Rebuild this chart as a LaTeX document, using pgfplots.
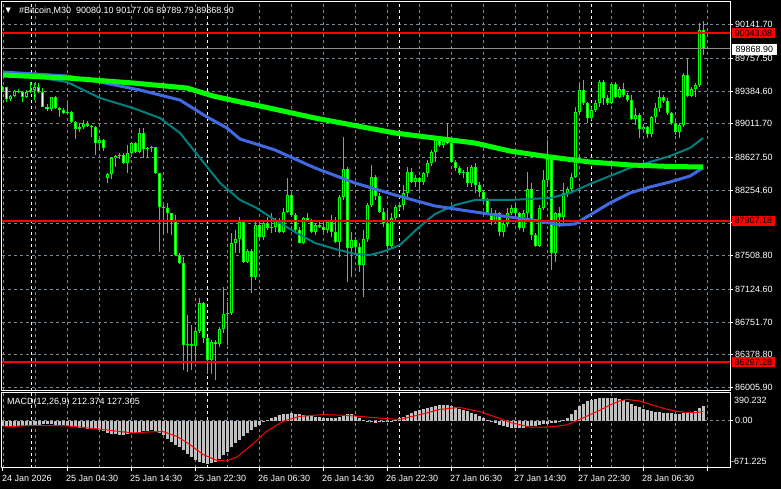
\documentclass[border=0pt]{standalone}
\usepackage{fontspec}
\setmainfont{Liberation Sans}
\newfontfamily\symbolfont{DejaVu Sans}
\usepackage{pgfplots}
\pgfplotsset{compat=1.18}
\usepackage{pgfplotstable}

\definecolor{mtlime}{RGB}{0,255,0}
\definecolor{mtblue}{RGB}{65,105,225}
\definecolor{mtteal}{RGB}{0,128,128}
\definecolor{mtgrid}{RGB}{119,136,153}
\definecolor{mtsilver}{RGB}{192,192,192}
\definecolor{mtred}{RGB}{255,0,0}
\definecolor{mtbid}{RGB}{140,140,140}

% M30 candles: index, open, high, low, close
\pgfplotstableread{
k o h l c
0 89415 89442 89388 89426
1 89426 89434 89263 89290
2 89290 89339 89274 89328
3 89328 89396 89312 89388
4 89388 89404 89366 89377
5 89377 89388 89263 89320
6 89320 89396 89301 89377
7 89377 89491 89358 89396
8 89396 89472 89282 89426
9 89426 89480 89366 89377
10 89377 89415 89198 89206
11 89206 89236 89160 89176
12 89176 89320 89160 89312
13 89312 89328 89183 89191
14 89191 89206 89092 89168
15 89168 89187 89122 89138
16 89138 89252 89122 89149
17 89149 89160 89016 89031
18 89031 89039 88834 88955
19 88955 89024 88921 88970
20 88970 89054 88948 89008
21 89008 89043 88970 88986
22 88986 88997 88856 88970
23 88970 88986 88655 88788
24 88788 88834 88712 88826
25 88826 88834 88700 88731
26 88389 88446 88332 88435
27 88435 88628 88378 88617
28 88617 88655 88522 88644
29 88644 88674 88606 88655
30 88655 88674 88552 88560
31 88560 88769 88446 88682
32 88682 88796 88666 88788
33 88788 88807 88682 88693
34 88693 88959 88674 88910
35 88910 88959 88617 88720
36 88720 88750 88617 88731
37 88731 88758 88693 88742
38 88742 88750 88438 88446
39 88446 88454 87553 88066
40 88066 88085 87762 88047
41 88047 88104 87762 87990
42 87990 87998 87743 87895
43 87895 87971 87504 87515
44 87515 87534 87412 87420
45 87420 87496 86204 86489
46 86489 86831 86185 86497
47 86497 86717 86204 86481
48 86481 86698 86318 86649
49 86649 87021 86622 86964
50 86964 86983 86508 86573
51 86573 86584 86166 86318
52 86318 86546 86166 86527
53 86527 86546 86090 86500
54 86500 86698 86470 86668
55 86668 87154 86622 86842
56 86842 86983 86489 86858
57 86858 87762 86831 87648
58 87648 87800 87534 87694
59 87694 87952 87534 87895
60 87895 87914 87420 87439
61 87439 87580 87420 87561
62 87561 87580 87078 87268
63 87268 87914 87230 87857
64 87857 87876 87705 87724
65 87724 87895 87686 87876
66 87876 87952 87800 87819
67 87819 87990 87762 87838
68 87838 87933 87781 87914
69 87914 87933 87762 87781
70 87781 88047 87762 88009
71 88009 88389 87990 88199
72 88199 88218 87952 87971
73 87971 87990 87781 87800
74 87800 87838 87648 87656
75 87656 87952 87640 87933
76 87933 87990 87895 87906
77 87906 87922 87762 87781
78 87781 87876 87743 87857
79 87857 87895 87819 87838
80 87838 87895 87781 87800
81 87800 87914 87762 87895
82 87895 87971 87724 87781
83 87781 87952 87648 87667
84 87667 88199 87496 88180
85 88180 88864 88142 88492
86 88492 88522 87211 87591
87 87591 87781 87268 87686
88 87686 87724 87534 87610
89 87610 87648 87325 87401
90 87401 87800 87040 87694
91 87694 88104 87667 88085
92 88085 88541 88066 88400
93 88400 88427 88142 88188
94 88188 88218 87990 88009
95 88009 88047 87838 87876
96 87876 88028 87534 87618
97 87618 87990 87591 87933
98 87933 88085 87895 88066
99 88066 88123 88028 88085
100 88085 88313 88028 88218
101 88218 88522 88161 88465
102 88465 88503 88332 88351
103 88351 88427 88294 88389
104 88389 88408 88256 88351
105 88351 88465 88313 88446
106 88446 88598 88408 88560
107 88560 88712 88530 88693
108 88693 88845 88579 88826
109 88826 88864 88750 88769
110 88769 88845 88731 88818
111 88818 89016 88780 88788
112 88788 88807 88560 88579
113 88579 88598 88476 88503
114 88503 88530 88427 88446
115 88446 88484 88389 88465
116 88465 88522 88294 88332
117 88332 88541 88294 88522
118 88522 88560 88218 88313
119 88313 88351 88180 88237
120 88237 88256 88123 88142
121 88142 88161 87971 87990
122 87990 88047 87857 87895
123 87895 88028 87876 87998
124 87998 88009 87732 87781
125 87781 87895 87724 87868
126 87868 88047 87838 87998
127 87998 88085 87971 88047
128 88047 88104 87960 87990
129 87990 88009 87800 87819
130 87819 88028 87781 87990
131 87990 88465 87895 88264
132 88264 88332 87686 87743
133 87743 87762 87610 87618
134 87618 88085 87610 88047
135 88047 88484 88028 88370
136 88370 88826 88294 88606
137 88606 88636 87344 87542
138 87542 88009 87439 87990
139 87990 88066 87838 87952
140 87952 88332 87876 88218
141 88218 88294 88180 88264
142 88264 88446 88218 88408
143 88408 89206 88389 89149
144 89149 89491 89111 89396
145 89396 89510 89225 89244
146 89244 89263 89016 89073
147 89073 89206 89054 89168
148 89168 89282 89149 89244
149 89244 89510 89206 89491
150 89491 89510 89225 89301
151 89301 89339 89225 89252
152 89252 89491 89236 89461
153 89461 89491 89301 89320
154 89320 89434 89301 89404
155 89404 89472 89320 89339
156 89339 89358 89263 89282
157 89282 89339 89054 89062
158 89062 89187 88997 89111
159 89111 89130 88845 88948
160 88948 88997 88921 88978
161 88978 88986 88845 88894
162 88894 89100 88864 89084
163 89084 89244 89016 89187
164 89187 89396 89149 89312
165 89312 89339 89244 89274
166 89274 89301 89111 89130
167 89130 89149 88997 89024
168 89024 89054 88883 88921
169 88921 89016 88845 88997
170 88997 89586 88978 89567
171 89567 89757 89320 89328
172 89328 89434 89312 89404
173 89404 89472 89320 89453
174 89453 90156 89434 90080.10
175 90080.10 90177.06 89789.79 89868.90
}\candles

% MACD(12,26,9) main histogram
\pgfplotstableread{
k m
0 -70
1 -72
2 -74
3 -75
4 -75
5 -74
6 -72
7 -70
8 -65
9 -60
10 -55
11 -52
12 -55
13 -58
14 -62
15 -68
16 -75
17 -85
18 -95
19 -105
20 -110
21 -115
22 -120
23 -125
24 -135
25 -150
26 -170
27 -185
28 -195
29 -200
30 -198
31 -190
32 -180
33 -170
34 -160
35 -150
36 -145
37 -140
38 -150
39 -175
40 -210
41 -260
42 -300
43 -340
44 -380
45 -420
46 -470
47 -520
48 -560
49 -590
50 -605
51 -610
52 -600
53 -580
54 -540
55 -490
56 -440
57 -380
58 -320
59 -270
60 -220
61 -170
62 -130
63 -95
64 -60
65 -25
66 5
67 30
68 55
69 75
70 90
71 100
72 105
73 100
74 90
75 80
76 70
77 60
78 50
79 45
80 40
81 35
82 30
83 30
84 45
85 70
86 95
87 90
88 60
89 30
90 5
91 -15
92 -25
93 -30
94 -25
95 -20
96 -15
97 -5
98 10
99 30
100 55
101 80
102 105
103 130
104 150
105 165
106 180
107 195
108 210
109 220
110 225
111 222
112 210
113 190
114 170
115 150
116 130
117 110
118 90
119 65
120 40
121 15
122 -10
123 -35
124 -60
125 -80
126 -95
127 -105
128 -110
129 -108
130 -100
131 -90
132 -80
133 -70
134 -60
135 -50
136 -45
137 -40
138 -35
139 -20
140 3
141 40
142 90
143 150
144 200
145 240
146 270
147 290
148 305
149 315
150 320
151 322
152 320
153 315
154 305
155 285
156 260
157 235
158 210
159 190
160 170
161 150
162 135
163 125
164 118
165 112
166 108
167 105
168 100
169 100
170 105
171 110
172 120
173 135
174 180
175 212.374
}\macd

\pgfplotsset{
  mtpane/.style={
    scale only axis, width=728pt, anchor=south west,
    xmin=-0.25, xmax=181.75,
    axis line style={white, line width=1pt},
    tick style={white, line width=1pt},
    major tick length=3pt, minor tick length=0pt,
    tick align=outside,
    xtick={0,16,...,176}, minor xtick={8,24,...,168},
    xmajorgrids, xminorgrids,
    major grid style={mtgrid, line width=0.8pt, dash pattern=on 3pt off 3pt},
    minor grid style={mtgrid, line width=0.8pt, dash pattern=on 3pt off 3pt},
    extra x ticks={7.1,51.1,99.1,147.1},
    extra x tick labels={},
    extra x tick style={grid=major, major grid style={white, line width=0.8pt, dash pattern=on 3pt off 3pt}, major tick length=0pt},
    xtick pos=bottom, ytick pos=right, yticklabel pos=right,
    tick label style={font=\fontsize{9}{10}\selectfont, text=white},
    yticklabel style={anchor=west, inner sep=0pt, xshift=2pt},
  }
}

\begin{document}
\begin{tikzpicture}
\fill[black] (0,0) rectangle (781pt,489pt);

% price pane
\begin{axis}[mtpane, at={(2pt,98pt)}, height=389pt,
  ymin=85966.7, ymax=90399.0,
  ytick={86005.9,86378.8,86751.7,87124.6,87508.8,87881.7,88254.6,88627.5,89011.7,89384.6,89757.5,90141.7},
  yticklabels={86005.90,86378.80,86751.70,87124.60,87508.80,87881.70,88254.60,88627.50,89011.70,89384.60,89757.50,90141.70},
  ymajorgrids,
  xticklabels={}, major x tick style={draw=none}]
  % wicks
  \addplot[mtlime, line width=1pt, quiver={u=0, v=\thisrow{h}-\thisrow{l}}] table[x=k, y=l] {\candles};
  % bodies
  \addplot[mtlime, line width=3pt, quiver={u=0, v=\thisrow{c}-\thisrow{o}}] table[x=k, y=o] {\candles};
  \addplot[white, line width=1pt, quiver={u=0, v={max(\thisrow{o}-\thisrow{c}-22.8,0)}}] table[x=k, y expr=\thisrow{c}+11.4] {\candles};
  \addplot[black, line width=1pt, quiver={u=0, v={max(\thisrow{c}-\thisrow{o}-22.8,0)}}] table[x=k, y expr=\thisrow{o}+11.4] {\candles};

  % moving averages
  \addplot[mtteal, line width=2pt, line join=round] coordinates {
    (0,89601) (16,89487) (24.25,89305) (32.5,89191) (39.25,89077) (44.25,88906)
    (49.25,88622) (54.25,88337) (59.25,88143) (63,88063) (68,87915) (73,87778)
    (78,87653) (83,87585) (88,87528) (91.75,87516) (95.5,87562) (99.25,87630)
    (103.5,87813) (108,87984) (113,88086) (118,88143) (126.75,88143) (136.75,88166)
    (141.75,88223) (146.75,88325) (151.75,88417) (156.75,88508) (161.75,88576)
    (166.75,88644) (171.75,88736) (175,88849)};
  \addplot[mtblue, line width=3pt, line join=round] coordinates {
    (0,89601) (16,89556) (24.25,89487) (34.25,89396) (44.25,89282) (51,89089)
    (56,88963) (59.25,88838) (68,88713) (78,88508) (88,88337) (98,88200)
    (108,88075) (118,88006) (126.75,87949) (134.25,87904) (139.25,87858) (143,87870)
    (146.75,87972) (151.75,88109) (156.75,88223) (161.75,88291) (166.75,88348)
    (171.75,88416) (175,88508)};
  \addplot[mtlime, line width=5pt, line join=round] coordinates {
    (0,89567) (16,89533) (32.5,89476) (46,89419) (52.5,89328) (59.25,89260)
    (64.25,89214) (78,89077) (98,88906) (118,88792) (126.75,88701) (136.75,88633)
    (146.75,88576) (156.75,88542) (166.75,88525) (175,88519)};

  % bid line and levels
  \addplot[mtbid, line width=1pt] coordinates {(-1,89868.90) (183,89868.90)};
  \addplot[mtred, line width=2pt] coordinates {(-1,90043.08) (183,90043.08)};
  \addplot[mtred, line width=2pt] coordinates {(-1,87907.18) (183,87907.18)};
  \addplot[mtred, line width=2pt] coordinates {(-1,86297.28) (183,86297.28)};
\end{axis}

% MACD pane
\begin{axis}[mtpane, at={(2pt,21pt)}, height=75pt,
  ymin=-671.225, ymax=390.232,
  ytick={0}, yticklabels={0.00}, ymajorgrids,
  xticklabels={24 Jan 2026,25 Jan 04:30,25 Jan 14:30,25 Jan 22:30,26 Jan 06:30,26 Jan 14:30,26 Jan 22:30,27 Jan 06:30,27 Jan 14:30,27 Jan 22:30,28 Jan 06:30,{}},
  xticklabel style={anchor=north west, inner sep=0pt, xshift=-1pt, yshift=-4pt}]
  \addplot[mtsilver, line width=3pt, quiver={u=0, v=\thisrow{m}}] table[x=k, y expr=0] {\macd};
  \addplot[mtred, line width=1pt, line join=round] coordinates {
    (0,-90) (7.5,-68) (16,-75) (24,-120) (28.5,-150) (32.5,-175) (36.75,-160)
    (40,-155) (43.5,-225) (46.75,-340) (50,-480) (53.5,-565) (56,-570) (58.5,-515)
    (61.75,-365) (66,-150) (70,-10) (74.25,60) (80,85) (85,75) (88,65) (92,45)
    (99,15) (104,80) (109,155) (114,187) (119,130) (124,35) (127,-30) (132,-95)
    (137,-90) (141,-60) (144,13) (149,140) (151.75,220) (154.25,280) (156,300)
    (159.25,275) (161.75,230) (166,160) (168.5,130) (171,115) (173,112) (175,127.305)};
\end{axis}

% header, indicator caption and price tags
\node[anchor=west, text=white, inner sep=0pt, font=\symbolfont\fontsize{7}{8}\selectfont] at (5.5pt,478.5pt) {▼};
\node[anchor=west, text=white, inner sep=0pt, font=\fontsize{9}{10}\selectfont] at (19pt,478.5pt) {\#Bitcoin,M30\ \ 90080.10 90177.06 89789.79 89868.90};
\node[anchor=west, text=white, inner sep=0pt, font=\fontsize{9}{10}\selectfont] at (7pt,86.5pt) {MACD(12,26,9) 212.374 127.305};
\node[anchor=west, text=white, inner sep=0pt, font=\fontsize{9}{10}\selectfont] at (734pt,89pt) {390.232};
\node[anchor=west, text=white, inner sep=0pt, font=\fontsize{9}{10}\selectfont] at (731pt,28pt) {-671.225};

\node[anchor=west, fill=mtred, text=black, inner sep=0pt, minimum width=43.5pt, minimum height=10pt, font=\fontsize{9}{10}\selectfont] at (731.5pt,455.8pt) {90043.08};
\node[anchor=west, fill=white, text=black, inner sep=0pt, minimum width=44.5pt, minimum height=10.5pt, font=\fontsize{9}{10}\selectfont] at (732pt,439.5pt) {89868.90};
\node[anchor=west, fill=mtred, text=black, inner sep=0pt, minimum width=43.5pt, minimum height=10pt, font=\fontsize{9}{10}\selectfont] at (731.5pt,268.3pt) {87907.18};
\node[anchor=west, fill=mtred, text=black, inner sep=0pt, minimum width=43.5pt, minimum height=10pt, font=\fontsize{9}{10}\selectfont] at (731.5pt,127pt) {86297.28};

\pgfresetboundingbox
\useasboundingbox (0,0) rectangle (781pt,489pt);
\end{tikzpicture}
\end{document}
